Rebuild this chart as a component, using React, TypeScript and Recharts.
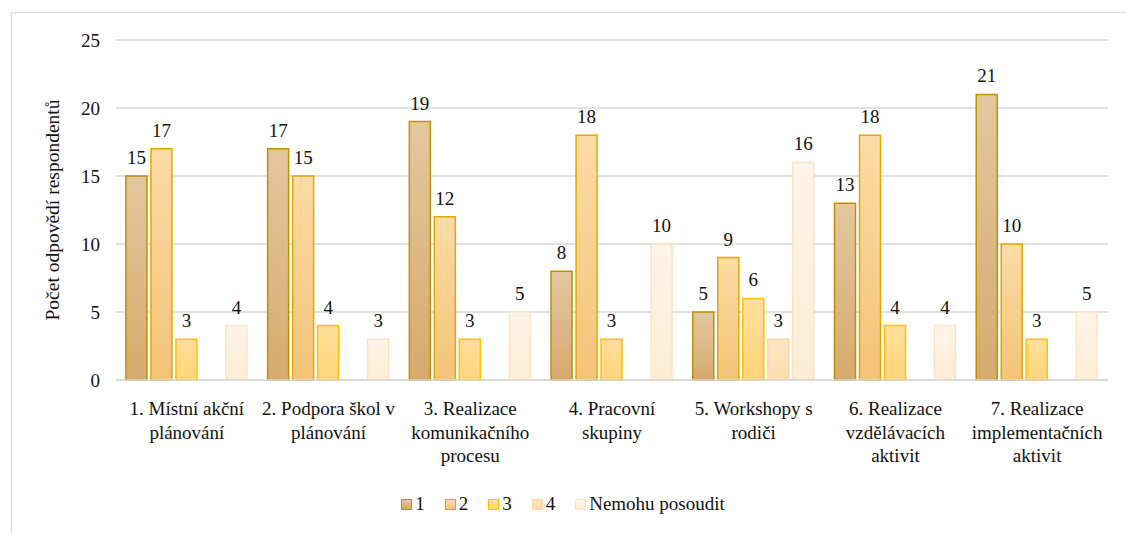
import React from 'react';
import { BarChart, Bar, XAxis, YAxis, CartesianGrid, LabelList } from 'recharts';

const categories = [
  '1. Místní akční\nplánování',
  '2. Podpora škol v\nplánování',
  '3. Realizace\nkomunikačního\nprocesu',
  '4. Pracovní\nskupiny',
  '5. Workshopy s\nrodiči',
  '6. Realizace\nvzdělávacích\naktivit',
  '7. Realizace\nimplementačních\naktivit',
];

const seriesNames = ['1', '2', '3', '4', 'Nemohu posoudit'];
const values1 = [15, 17, 19, 8, 5, 13, 21];
const values2 = [17, 15, 12, 18, 9, 18, 10];
const values3 = [3, 4, 3, 3, 6, 4, 3];
const values4 = [0, 0, 0, 0, 3, 0, 0];
const values5 = [4, 3, 5, 10, 16, 4, 5];
const yTicks = [0, 5, 10, 15, 20, 25];

const font = "'Liberation Serif', 'DejaVu Serif', 'Times New Roman', Times, serif";

// top colour, bottom colour, outline
const palette = [
  { top: '#e3c79f', bottom: '#d6aa6e', stroke: '#bf9000' },
  { top: '#fcdba6', bottom: '#f3c377', stroke: '#e3a800' },
  { top: '#ffdf9a', bottom: '#ffd47c', stroke: '#ffc000' },
  { top: '#fde6c4', bottom: '#fcdcae', stroke: '#fbd8a3' },
  { top: '#fff5e8', bottom: '#fdebd4', stroke: '#fce3c4' },
];

const data = categories.map((name, i) => ({
  name,
  s1: values1[i],
  s2: values2[i],
  s3: values3[i],
  s4: values4[i],
  s5: values5[i],
}));

const keys = ['s1', 's2', 's3', 's4', 's5'];

const CategoryTick = (props: any) => {
  const { x, y, payload } = props;
  const lines = String(payload.value).split('\n');
  return (
    <text x={x} y={y + 35} textAnchor="middle" style={{ fontFamily: font }} fontSize={19} fill="#111">
      {lines.map((l, i) => (
        <tspan key={i} x={x} dy={i === 0 ? 0 : 23.5}>{l}</tspan>
      ))}
    </text>
  );
};

export default function App() {
  return (
    <div style={{ position: 'absolute', left: 0, top: 0, width: 1126, height: 533, overflow: 'hidden', background: '#fff', fontFamily: font }}>
      <div style={{ position: 'absolute', left: 11, top: 12, width: 1300, height: 700, border: '1.5px solid #d9d9d9', boxSizing: 'border-box' }} />
      <div style={{ position: 'absolute', left: 0, top: 0 }}>
        <BarChart
          width={1126}
          height={533}
          data={data}
          margin={{ top: 40, right: 18, left: 56, bottom: 0 }}
          barCategoryGap="7%"
          barGap={4}
          style={{ fontFamily: font }}
        >
          <defs>
            {palette.map((p, i) => (
              <linearGradient key={i} id={`grad${i}`} x1="0" y1="0" x2="0" y2="1">
                <stop offset="0%" stopColor={p.top} />
                <stop offset="100%" stopColor={p.bottom} />
              </linearGradient>
            ))}
          </defs>
          <CartesianGrid vertical={false} stroke="#d9d9d9" strokeWidth={1.5} />
          <XAxis
            dataKey="name"
            interval={0}
            tickLine={false}
            tickSize={0}
            tickMargin={0}
            axisLine={{ stroke: '#d9d9d9', strokeWidth: 1.5 }}
            tick={<CategoryTick />}
            height={153}
          />
          <YAxis
            domain={[0, 25]}
            ticks={yTicks}
            width={60}
            axisLine={false}
            tickLine={false}
            tickMargin={10}
            tick={{ fontSize: 19, fill: '#111', style: { fontFamily: font } }}
            label={{
              value: 'Počet odpovědí respondentů',
              angle: -90,
              position: 'insideLeft',
              offset: -4,
              style: { textAnchor: 'middle', fontFamily: font, fontSize: 19.5, fill: '#111' },
            }}
          />
          {keys.map((k, i) => (
            <Bar
              key={k}
              dataKey={k}
              name={seriesNames[i]}
              fill={`url(#grad${i})`}
              stroke={palette[i].stroke}
              strokeWidth={1.5}
              isAnimationActive={false}
            >
              <LabelList dataKey={k} position="top" offset={12} style={{ fontFamily: font, fontSize: 19, fill: '#111' }} />
            </Bar>
          ))}
        </BarChart>
      </div>
      <div
        style={{
          position: 'absolute',
          left: 0,
          top: 493,
          width: 1126,
          display: 'flex',
          justifyContent: 'center',
          fontSize: 19,
          color: '#111',
        }}
      >
        {seriesNames.map((n, i) => (
          <div key={n} style={{ display: 'flex', alignItems: 'center', marginLeft: i === 0 ? 0 : 20 }}>
            <div
              style={{
                width: 11,
                height: 11,
                boxSizing: 'border-box',
                border: `1.5px solid ${palette[i].stroke}`,
                background: `linear-gradient(${palette[i].top}, ${palette[i].bottom})`,
                marginRight: 3,
              }}
            />
            <span>{n}</span>
          </div>
        ))}
      </div>
    </div>
  );
}
